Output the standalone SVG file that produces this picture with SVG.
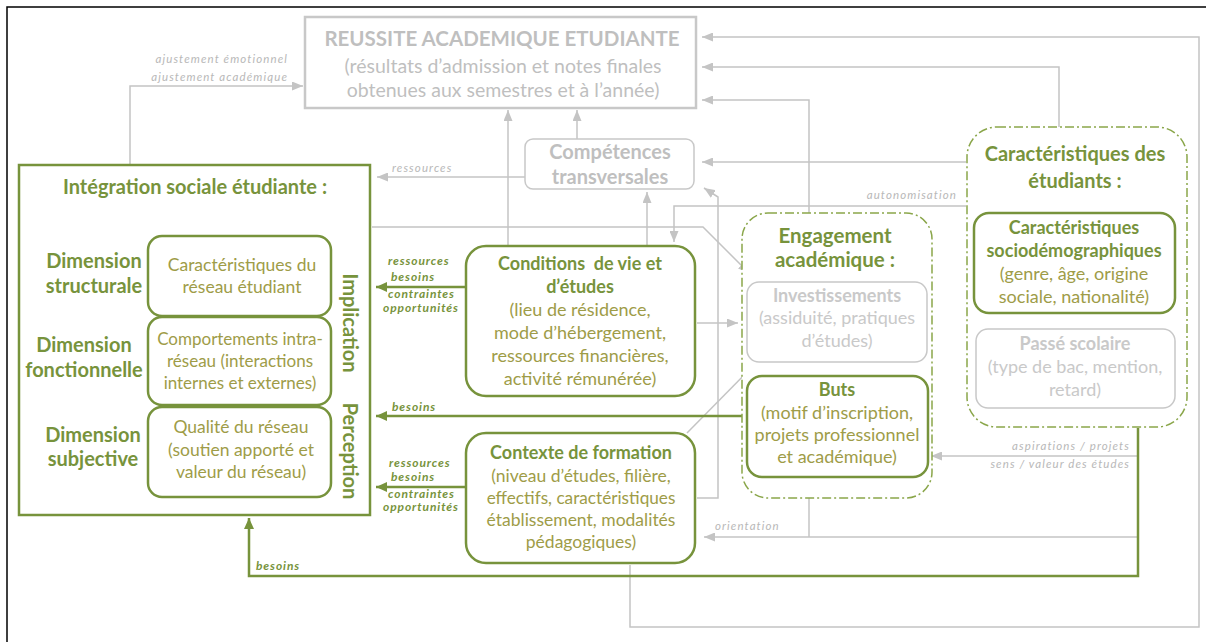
<svg xmlns="http://www.w3.org/2000/svg" width="1206" height="642" viewBox="0 0 1206 642">
<style>
text{font-family:Lato,"Open Sans","Liberation Sans",sans-serif}
.c{text-anchor:middle}
.e{text-anchor:end}
.gb{fill:#77933c;font-weight:bold}
.gr{fill:#9e9c48}
.gy{fill:#bfbfbf}
.gyb{fill:#bfbfbf;font-weight:bold}
.lg{fill:#c9c9c9}
.lgb{fill:#c9c9c9;font-weight:bold}
.lab{fill:#b8b8b8;font-style:italic;font-size:11.5px;letter-spacing:1.1px}
.glab{fill:#77933c;font-style:italic;font-weight:bold;font-size:12px;letter-spacing:0.9px}
.gbox{fill:#fff;stroke:#77933c;stroke-width:2.5}
.graybox{fill:#fff;stroke:#c8c8c8;stroke-width:1.5}
.dash{fill:#fff;stroke:#8aa64a;stroke-width:1.5;stroke-dasharray:9 3 2 3}
.cg{fill:none;stroke:#c4c4c4;stroke-width:1.5}
.cgr{fill:none;stroke:#77933c;stroke-width:2.5}
.t18{font-size:18px}
.t20{font-size:20px}
</style>
<defs>
<marker id="ag" markerUnits="userSpaceOnUse" markerWidth="11" markerHeight="9" refX="11" refY="4.5" orient="auto"><path d="M0,0 L11,4.5 L0,9 z" fill="#c4c4c4"/></marker>
<marker id="agr" markerUnits="userSpaceOnUse" markerWidth="11" markerHeight="10" refX="11" refY="5" orient="auto"><path d="M0,0 L11,5 L0,10 z" fill="#77933c"/></marker>
</defs>
<rect width="1206" height="642" fill="#fff"/>
<path d="M7,642 V7 H1206" fill="none" stroke="#000" stroke-width="1.5"/>

<g id="connectors">
<path class="cg" d="M130,165 V86 H303" marker-end="url(#ag)"/>
<path class="cg" d="M525,177 H377" marker-end="url(#ag)"/>
<path class="cg" d="M508,245 V110" marker-end="url(#ag)"/>
<path class="cg" d="M577,139 V110" marker-end="url(#ag)"/>
<path class="cg" d="M647,245 V192" marker-end="url(#ag)"/>
<path class="cg" d="M697,498 H718 V197 L704,188" marker-end="url(#ag)"/>
<path class="cg" d="M372,227 H703 L749,273" marker-end="url(#ag)"/>
<path class="cg" d="M697,323 H738" marker-end="url(#ag)"/>
<path class="cg" d="M687,433 L754,365" marker-end="url(#ag)"/>
<path class="cg" d="M966,206 H674 V242" marker-end="url(#ag)"/>
<path class="cg" d="M966,162 H702" marker-end="url(#ag)"/>
<path class="cg" d="M1059,127 V67 H702" marker-end="url(#ag)"/>
<path class="cg" d="M809,213 V100 H702" marker-end="url(#ag)"/>
<path class="cg" d="M630,565 V627 H1199 V37 H702" marker-end="url(#ag)"/>
<path class="cg" d="M1138,537 H704" marker-end="url(#ag)"/>
<path class="cg" d="M809,477 V537"/>
<path class="cg" d="M1138,456 H931" marker-end="url(#ag)"/>
<path class="cgr" d="M1138,428 V576 H249 V518" marker-end="url(#agr)"/>
<path class="cgr" d="M742,416 H376" marker-end="url(#agr)"/>
<path class="cgr" d="M466,287 H376" marker-end="url(#agr)"/>
<path class="cgr" d="M466,487 H376" marker-end="url(#agr)"/>
<text class="lab e" x="288" y="63">ajustement émotionnel</text>
<text class="lab e" x="288" y="81">ajustement académique</text>
<text class="lab" x="392" y="172">ressources</text>
<text class="lab e" x="957" y="199">autonomisation</text>
<text class="lab" x="715" y="530">orientation</text>
<text class="lab e" x="1130" y="450">aspirations / projets</text>
<text class="lab e" x="1130" y="468">sens / valeur des études</text>
<text class="glab" x="388" y="265">ressources</text>
<text class="glab" x="391" y="281">besoins</text>
<text class="glab" x="388" y="298">contraintes</text>
<text class="glab" x="383" y="312">opportunités</text>
<text class="glab" x="392" y="411">besoins</text>
<text class="glab" x="389" y="467">ressources</text>
<text class="glab" x="391" y="481">besoins</text>
<text class="glab" x="388" y="498">contraintes</text>
<text class="glab" x="383" y="511">opportunités</text>
<text class="glab" x="256" y="570">besoins</text>
</g>

<g id="reussite">
<rect x="305" y="17" width="391" height="91" fill="#fff" stroke="#c8c8c8" stroke-width="2.5"/>
<text class="gyb c" x="502" y="46" font-size="20.5">REUSSITE ACADEMIQUE ETUDIANTE</text>
<text class="gy c" x="503" y="73" font-size="19.5">(résultats d’admission et notes finales</text>
<text class="gy c" x="503" y="97" font-size="19.5">obtenues aux semestres et à l’année)</text>
</g>

<g id="competences">
<rect class="graybox" x="525" y="139" width="169" height="50" rx="8"/>
<text class="gyb c t20" x="610" y="159">Compétences</text>
<text class="gyb c t20" x="610" y="184">transversales</text>
</g>

<g id="integration">
<rect x="19" y="165" width="351" height="350" fill="#fff" stroke="#77933c" stroke-width="2.5"/>
<text class="gb c t20" x="195" y="194">Intégration sociale étudiante :</text>
<text class="gb c t20" x="94" y="268">Dimension</text>
<text class="gb c t20" x="94" y="293">structurale</text>
<text class="gb c t20" x="84" y="352">Dimension</text>
<text class="gb c t20" x="84" y="377">fonctionnelle</text>
<text class="gb c t20" x="93" y="442">Dimension</text>
<text class="gb c t20" x="93" y="466">subjective</text>
<text class="gb c t20" transform="translate(343,323) rotate(90)">Implication</text>
<text class="gb c t20" transform="translate(343,451) rotate(90)">Perception</text>
</g>
<g id="dim-structurale">
<rect class="gbox" x="148" y="236" width="183" height="80" rx="14"/>
<text class="gr c" x="242" y="271" font-size="17.5">Caractéristiques du</text>
<text class="gr c" x="242" y="293" font-size="17.5">réseau étudiant</text>
</g>
<g id="dim-fonctionnelle">
<rect class="gbox" x="148" y="317" width="183" height="88" rx="14"/>
<text class="gr c" x="240" y="345" font-size="17">Comportements intra-</text>
<text class="gr c" x="240" y="367" font-size="17">réseau (interactions</text>
<text class="gr c" x="240" y="389" font-size="17">internes et externes)</text>
</g>
<g id="dim-subjective">
<rect class="gbox" x="148" y="407" width="183" height="90" rx="14"/>
<text class="gr c" x="241" y="433" font-size="17.5">Qualité du réseau</text>
<text class="gr c" x="241" y="456" font-size="17.5">(soutien apporté et</text>
<text class="gr c" x="241" y="478" font-size="17.5">valeur du réseau)</text>
</g>

<g id="conditions">
<rect class="gbox" x="466" y="246" width="229" height="150" rx="20"/>
<text class="gb c t18" x="580" y="270" xml:space="preserve">Conditions  de vie et</text>
<text class="gb c t18" x="580" y="293">d’études</text>
<text class="gr c t18" x="580" y="316">(lieu de résidence,</text>
<text class="gr c t18" x="580" y="339">mode d’hébergement,</text>
<text class="gr c t18" x="580" y="362">ressources financières,</text>
<text class="gr c t18" x="580" y="385">activité rémunérée)</text>
</g>

<g id="contexte">
<rect class="gbox" x="466" y="433" width="229" height="130" rx="20"/>
<text class="gb c t18" x="581" y="459">Contexte de formation</text>
<text class="gr c" x="581" y="482" font-size="17.5">(niveau d’études, filière,</text>
<text class="gr c" x="581" y="504" font-size="17.2">effectifs, caractéristiques</text>
<text class="gr c" x="581" y="526" font-size="17.5">établissement, modalités</text>
<text class="gr c" x="581" y="548" font-size="17.5">pédagogiques)</text>
</g>

<g id="engagement">
<rect class="dash" x="742" y="213" width="190" height="285" rx="26"/>
<text class="gb c" x="835" y="243" font-size="20.5">Engagement</text>
<text class="gb c" x="835" y="267" font-size="20.5">académique :</text>
</g>
<g id="investissements">
<rect class="graybox" x="747" y="282" width="180" height="80" rx="12"/>
<text class="lgb c t18" x="837" y="302">Investissements</text>
<text class="lg c t18" x="837" y="324">(assiduité, pratiques</text>
<text class="lg c t18" x="837" y="347">d’études)</text>
</g>
<g id="buts">
<rect class="gbox" x="747" y="376" width="181" height="101" rx="15"/>
<text class="gb c t18" x="837" y="396">Buts</text>
<text class="gr c t18" x="837" y="419">(motif d’inscription,</text>
<text class="gr c t18" x="837" y="441">projets professionnel</text>
<text class="gr c t18" x="837" y="463">et académique)</text>
</g>

<g id="caracteristiques">
<rect class="dash" x="967" y="127" width="220" height="300" rx="30"/>
<text class="gb c t20" x="1075" y="161">Caractéristiques des</text>
<text class="gb c t20" x="1075" y="188">étudiants :</text>
</g>
<g id="sociodemo">
<rect class="gbox" x="974" y="213" width="201" height="100" rx="15"/>
<text class="gb c t18" x="1074" y="234">Caractéristiques</text>
<text class="gb c t18" x="1074" y="257">sociodémographiques</text>
<text class="gr c t18" x="1074" y="280">(genre, âge, origine</text>
<text class="gr c t18" x="1074" y="303">sociale, nationalité)</text>
</g>
<g id="passe-scolaire">
<rect class="graybox" x="976" y="329" width="199" height="79" rx="12"/>
<text class="lgb c t18" x="1075" y="350">Passé scolaire</text>
<text class="lg c t18" x="1075" y="373">(type de bac, mention,</text>
<text class="lg c t18" x="1075" y="396">retard)</text>
</g>
</svg>
